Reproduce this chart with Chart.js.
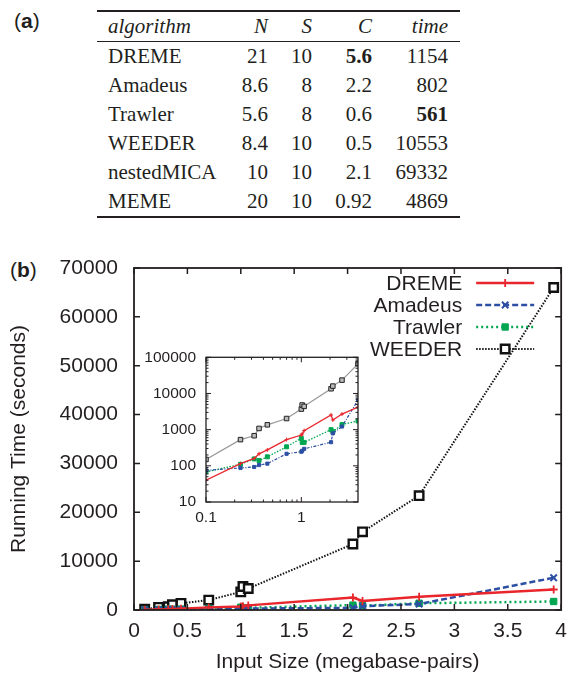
<!DOCTYPE html>
<html lang="en">
<head>
<meta charset="UTF-8">
<title>Motif finder running times</title>
<script src="https://cdn.jsdelivr.net/npm/chart.js"></script>
<style>
  body { margin: 0; width: 576px; height: 677px; background: #fff; position: relative; overflow: hidden;
         font-family: "Liberation Sans", Arial, sans-serif; color: #231f20; }
  .tag { position: absolute; font-size: 21px; line-height: 24px; }
  #tbl { position: absolute; left: 97px; top: 10px; width: 363px; table-layout: fixed;
         border-collapse: separate; border-spacing: 0;
         font-family: "Liberation Serif", "Times New Roman", serif; font-size: 21px; color: #231f20; }
  #tbl th, #tbl td { box-sizing: border-box; padding: 0 4px 0 0; text-align: right; white-space: nowrap; }
  #tbl th { font-weight: normal; font-style: italic; line-height: 29px;
            border-top: 2px solid #231f20; border-bottom: 1px solid #231f20; }
  #tbl td { line-height: 29px; }
  #tbl tr:last-child td { border-bottom: 2px solid #231f20; }
  #tbl th:first-child, #tbl td:first-child { text-align: left; padding: 0 0 0 11px; }
  #tbl th:last-child, #tbl td:last-child { padding-right: 12px; }
  #main { position: absolute; left: 0; top: 230px; width: 576px; height: 447px; }
  #inset { position: absolute; left: 136px; top: 338px; width: 229px; height: 192px; }
</style>
</head>
<body>
<div class="tag" style="left:14px; top:9px;">(<b>a</b>)</div>
<table id="tbl">
  <colgroup><col style="width:133px"><col style="width:42px"><col style="width:44px"><col style="width:60px"><col style="width:84px"></colgroup>
  <thead><tr><th>algorithm</th><th>N</th><th>S</th><th>C</th><th>time</th></tr></thead>
  <tbody id="rows"></tbody>
</table>
<div class="tag" style="left:10px; top:258px;">(<b>b</b>)</div>
<div id="main"><canvas id="mainChart"></canvas></div>
<div id="inset"><canvas id="insetChart"></canvas></div>
<script>
// table (a)
const algorithms = ['DREME', 'Amadeus', 'Trawler', 'WEEDER', 'nestedMICA', 'MEME'];
const colN = ['21', '8.6', '5.6', '8.4', '10', '20'];
const colS = ['10', '8', '8', '10', '10', '10'];
const colC = ['5.6', '2.2', '0.6', '0.5', '2.1', '0.92'];
const colTime = ['1154', '802', '561', '10553', '69332', '4869'];
const boldC = 'DREME';
const boldTime = 'Trawler';

// plot (b): running time (s) against input size (megabase-pairs)
const sizes   = [0.1, 0.23, 0.32, 0.36, 0.44, 0.70, 1.0, 1.02, 1.07, 2.05, 2.14, 2.67, 3.93];
const dreme   = [40, 115, 160, 215, 275, 530, 710, 760, 940, 2550, 1850, 2700, 4200];
const amadeus = [75, 87, 93, 105, 115, 215, 245, 260, 295, 450, 790, 1220, 6600];
const trawler = [68, 110, 155, 140, 177, 335, 575, 440, 445, 1000, 880, 1380, 1740];
const weeder  = [150, 530, 680, 1080, 1360, 2030, 3700, 4800, 4400, 13500, 16000, 23400, 66000];

const tbody = document.getElementById('rows');
algorithms.forEach((name, i) => {
  const tr = document.createElement('tr');
  const cells = [name, colN[i], colS[i], colC[i], colTime[i]];
  cells.forEach((txt, j) => {
    const td = document.createElement('td');
    td.textContent = txt;
    if ((j === 3 && name === boldC) || (j === 4 && name === boldTime)) td.style.fontWeight = 'bold';
    tr.appendChild(td);
  });
  tbody.appendChild(tr);
});

const FONT = '"Liberation Sans", Arial, sans-serif';
Chart.defaults.font.family = FONT;
Chart.defaults.color = '#231f20';

const pts = vals => sizes.map((x, i) => ({ x: x, y: vals[i] }));

function marker(ctx, style, r, x, y) {
  ctx.beginPath();
  if (style === 'cross') {
    ctx.moveTo(x - r, y); ctx.lineTo(x + r, y); ctx.moveTo(x, y - r); ctx.lineTo(x, y + r);
    ctx.stroke();
  } else if (style === 'crossRot') {
    const d = r * Math.SQRT1_2;
    ctx.moveTo(x - d, y - d); ctx.lineTo(x + d, y + d); ctx.moveTo(x - d, y + d); ctx.lineTo(x + d, y - d);
    ctx.stroke();
  } else {
    const s = r * Math.SQRT1_2;
    ctx.rect(x - s, y - s, 2 * s, 2 * s);
    ctx.fill(); ctx.stroke();
  }
}

// gnuplot-like frame with inward ticks on all four sides
const frameTicks = {
  id: 'frameTicks',
  afterDraw(chart, args, o) {
    const { ctx, chartArea: a, scales } = chart;
    ctx.save();
    ctx.strokeStyle = '#231f20';
    ctx.lineWidth = o.tickWidth;
    scales.x.ticks.forEach(t => {
      const x = scales.x.getPixelForValue(t.value);
      const len = t.major === false ? o.minor : o.major;
      ctx.beginPath();
      ctx.moveTo(x, a.bottom); ctx.lineTo(x, a.bottom - len);
      ctx.moveTo(x, a.top); ctx.lineTo(x, a.top + len);
      ctx.stroke();
    });
    scales.y.ticks.forEach(t => {
      const y = scales.y.getPixelForValue(t.value);
      const len = t.major === false ? o.minor : o.major;
      ctx.beginPath();
      ctx.moveTo(a.left, y); ctx.lineTo(a.left + len, y);
      ctx.moveTo(a.right, y); ctx.lineTo(a.right - len, y);
      ctx.stroke();
    });
    ctx.lineWidth = o.width;
    ctx.strokeRect(a.left, a.top, a.right - a.left, a.bottom - a.top);
    ctx.restore();
  }
};

// key in the top right corner: label, then line sample with marker
const keyBox = {
  id: 'keyBox',
  afterDatasetsDraw(chart, args, o) {
    if (!o.show) return;
    const { ctx, chartArea: a } = chart;
    ctx.save();
    ctx.font = '21px ' + FONT;
    ctx.textAlign = 'right';
    ctx.textBaseline = 'middle';
    chart.data.datasets.forEach((ds, i) => {
      const y = a.top + o.top + i * o.gap;
      const x1 = a.right - o.right - o.sample;
      ctx.fillStyle = '#231f20';
      ctx.fillText(ds.label, x1 - o.textGap, y + 1);
      ctx.strokeStyle = ds.borderColor;
      ctx.lineWidth = ds.borderWidth;
      ctx.setLineDash(ds.borderDash || []);
      ctx.beginPath(); ctx.moveTo(x1, y); ctx.lineTo(x1 + o.sample, y); ctx.stroke();
      ctx.setLineDash([]);
      ctx.fillStyle = ds.pointBackgroundColor;
      ctx.strokeStyle = ds.pointBorderColor;
      ctx.lineWidth = ds.pointBorderWidth;
      marker(ctx, ds.pointStyle, ds.pointRadius, x1 + o.sample / 2, y);
    });
    ctx.restore();
  }
};

function mainSet(label, vals, color, dash, width, style, radius, bg, pbw) {
  return {
    label: label, data: pts(vals), borderColor: color, borderWidth: width, borderDash: dash,
    pointStyle: style, pointRadius: radius, pointBorderColor: color, pointBackgroundColor: bg,
    pointBorderWidth: pbw, tension: 0, fill: false
  };
}

new Chart(document.getElementById('mainChart'), {
  type: 'line',
  data: {
    datasets: [
      mainSet('DREME', dreme, '#e8262c', [], 2.4, 'cross', 4, '#e8262c', 1.8),
      mainSet('Amadeus', amadeus, '#2d4fa3', [6, 3], 2.5, 'crossRot', 4.5, '#2d4fa3', 2),
      mainSet('Trawler', trawler, '#00a650', [2, 3], 2.5, 'rect', 4.5, '#00a650', 1),
      mainSet('WEEDER', weeder, '#111111', [1.5, 1.5], 2, 'rect', 6, '#ffffff', 2.4)
    ]
  },
  options: {
    responsive: true, maintainAspectRatio: false, animation: false,
    layout: { padding: { left: 0, top: 38, right: 8, bottom: 0 } },
    plugins: {
      legend: { display: false }, tooltip: { enabled: false },
      frameTicks: { width: 1.8, tickWidth: 1.5, major: 6, minor: 6 },
      keyBox: { show: true, top: 15, gap: 22, right: 27, sample: 58, textGap: 14 }
    },
    scales: {
      x: {
        type: 'linear', min: 0, max: 4,
        grid: { display: false, drawTicks: false }, border: { display: false },
        ticks: { stepSize: 0.5, padding: 9, font: { size: 21 }, callback: v => String(v) },
        title: { display: true, text: 'Input Size (megabase-pairs)', font: { size: 21 }, padding: { top: 0, bottom: 2 } },
        afterFit: s => { s.height = 67; }
      },
      y: {
        min: 0, max: 70000,
        grid: { display: false, drawTicks: false }, border: { display: false },
        ticks: { stepSize: 10000, padding: 16, font: { size: 21 }, callback: v => String(v) },
        title: { display: true, text: 'Running Time (seconds)', font: { size: 21 }, padding: { top: 7, bottom: 0 } },
        afterFit: s => { s.width = 134; }
      }
    }
  },
  plugins: [frameTicks, keyBox]
});

function logTicks(scale) {
  const list = [];
  const lo = Math.floor(Math.log10(scale.min)), hi = Math.ceil(Math.log10(scale.max));
  for (let d = lo; d <= hi; d++) {
    for (let k = 1; k <= 9; k++) {
      const v = parseFloat((k * Math.pow(10, d)).toPrecision(6));
      if (v >= scale.min * 0.9999 && v <= scale.max * 1.0001) list.push({ value: v, major: k === 1 });
    }
  }
  scale.ticks = list;
}

function insetSet(vals, color, dash, width, style, radius, bg, border) {
  return {
    data: pts(vals), borderColor: color, borderWidth: width, borderDash: dash,
    pointStyle: style, pointRadius: radius, pointBorderColor: border, pointBackgroundColor: bg,
    pointBorderWidth: 1, tension: 0, fill: false
  };
}

new Chart(document.getElementById('insetChart'), {
  type: 'line',
  data: {
    datasets: [
      insetSet(dreme, '#e8262c', [], 1.3, 'cross', 2, '#e8262c', '#e8262c'),
      insetSet(amadeus, '#2d4fa3', [3, 1.5, 1, 1.5], 1.2, 'rect', 2.2, '#2d4fa3', '#2d4fa3'),
      insetSet(trawler, '#00a650', [1.5, 1.5], 1.3, 'rect', 2.8, '#00a650', '#00a650'),
      insetSet(weeder, '#9a9a9a', [], 1.2, 'rect', 3.2, '#bbbbbb', '#222222')
    ]
  },
  options: {
    responsive: true, maintainAspectRatio: false, animation: false,
    layout: { padding: { left: 0, top: 13, right: 7, bottom: 0 } },
    plugins: {
      legend: { display: false }, tooltip: { enabled: false },
      frameTicks: { width: 1.3, tickWidth: 1, major: 5, minor: 2.5 },
      keyBox: { show: false }
    },
    scales: {
      x: {
        type: 'logarithmic', min: 0.1, max: 3.93,
        grid: { display: false, drawTicks: false }, border: { display: false },
        afterBuildTicks: logTicks,
        ticks: { autoSkip: false, maxRotation: 0, padding: 6, font: { size: 15.5 },
                 callback: (v, i, t) => (t[i] && t[i].major) ? String(v) : '' },
        afterFit: s => { s.height = 28; }
      },
      y: {
        type: 'logarithmic', min: 10, max: 100000,
        grid: { display: false, drawTicks: false }, border: { display: false },
        afterBuildTicks: logTicks,
        ticks: { autoSkip: false, padding: 10, font: { size: 15.5 },
                 callback: (v, i, t) => (t[i] && t[i].major) ? String(v) : '' },
        afterFit: s => { s.width = 70; }
      }
    }
  },
  plugins: [frameTicks, keyBox]
});
</script>
</body>
</html>
